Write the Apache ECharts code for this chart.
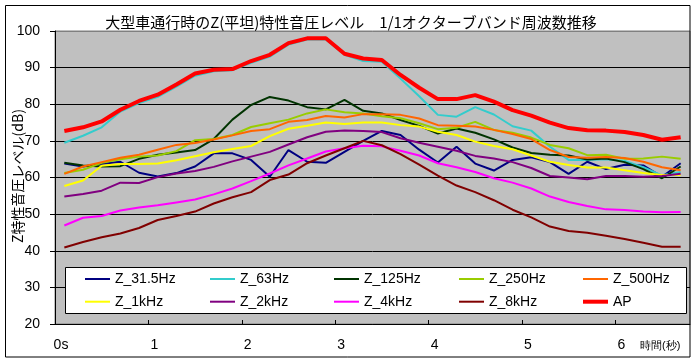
<!DOCTYPE html>
<html>
<head>
<meta charset="utf-8">
<script src="https://cdn.jsdelivr.net/npm/echarts@6/dist/echarts.min.js"></script>
<style>html,body{margin:0;padding:0;background:#fff;}#c{width:696px;height:363px;}</style>
</head>
<body>
<div id="c"></div>
<script>
const titleText = '大型車通行時のZ(平坦)特性音圧レベル　1/1オクターブバンド周波数推移';
const yName = 'Z特性音圧レベル(dB)';
const xName = '時間(秒)';
const times = [0.1,0.3,0.5,0.7,0.9,1.1,1.3,1.5,1.7,1.9,2.1,2.3,2.5,2.7,2.9,3.1,3.3,3.5,3.7,3.9,4.1,4.3,4.5,4.7,4.9,5.1,5.3,5.5,5.7,5.9,6.1,6.3,6.5,6.7];
const names = ['Z_31.5Hz','Z_63Hz','Z_125Hz','Z_250Hz','Z_500Hz','Z_1kHz','Z_2kHz','Z_4kHz','Z_8kHz','AP'];
const z31_5 = [63.8,63,63.7,64.3,61.3,60.3,61.2,63,66.6,66.6,64.8,60.2,67.5,64.3,64,67,70,72.7,71.6,67.6,64.1,68.4,63.8,61.9,64.8,65.5,64.2,61,64.3,62.3,63.5,63.3,60.2,63.9];
const z63 = [69.5,71.4,73.7,78,80.3,82,84.8,87.8,89,89.3,91.3,93,96.3,97.7,97.7,93.5,91.8,91.6,87,82.2,77.1,76.6,79.2,77.2,74,72.8,68.4,64.8,64.8,65,64.5,62.8,60.6,61.5];
const z125 = [64,63.3,63,63.1,65.1,66.2,66.8,67.5,70.5,75.8,79.8,82,81,79.2,78.6,81.2,78.2,77.5,75.7,74.1,72,73.4,72.2,70.4,68.2,66.7,66.2,66,64.9,65.2,64.2,62.3,59.8,63];
const z250 = [61.2,62.1,64,65,65.7,66,67.2,70.2,70.5,71.6,73.8,74.8,75.8,77.5,78.6,77.8,77.5,76.7,76.2,74.8,73.2,73.6,75.2,73,72.2,70.9,68.9,68,66.1,66.2,65.1,65.2,65.7,65.1];
const z500 = [61,63,64.2,65.4,66.2,67.6,68.9,69.4,70.4,71.5,72.7,73.2,75.2,75.7,76.8,76.4,77.3,77.3,77.1,76.1,74.3,74.1,73.9,73,71.9,70.5,67.5,65.6,65.4,65.6,65.3,64.3,62.8,62];
const z1k = [57.7,59.2,63.2,63.7,63.7,63.8,64.7,65.8,66.9,67.8,68.6,71.3,73.3,74.1,75,74.6,75,75,74.3,73.9,72.5,71.6,69.8,68.6,67.7,66,64.3,63.4,62.7,62.7,62,61.2,60.7,60.7];
const z2k = [54.8,55.5,56.4,58.6,58.5,60.1,61.1,61.8,62.9,64.4,65.7,67,69,71,72.5,72.8,72.7,72.4,70.7,69.5,68.4,67.3,65.9,65.2,64.2,62.6,60.4,60,59.5,60.4,60.4,60.2,60.4,61];
const z4k = [46.9,49,49.5,51,51.8,52.4,53.2,54,55.4,57,59,61.1,63.3,65.2,67.1,68,68.7,68.5,67.3,66,63.9,62.8,61.5,59.8,58.6,57,54.8,53.3,52.2,51.3,51.1,50.7,50.5,50.6];
const z8k = [40.9,42.4,43.7,44.7,46.2,48.4,49.5,50.7,52.9,54.6,56,59.3,60.8,63.9,66,68,70,68.8,66.4,63.5,60.5,57.8,56,53.8,51.2,49.1,46.6,45.4,44.9,44.1,43.2,42.2,41.1,41.1];
const ap = [72.7,73.7,75.3,78.5,80.9,82.6,85.4,88.4,89.4,89.6,91.8,93.5,96.7,98,98,93.8,92.5,92.1,88,84.5,81.4,81.4,82.5,80.7,78.4,76.9,75,73.5,72.9,72.8,72.4,71.6,70.3,71];

const values = [z31_5,z63,z125,z250,z500,z1k,z2k,z4k,z8k,ap];
const colors = ['#000080','#33CCCC','#003300','#99CC00','#FF6600','#FFFF00','#800080','#FF00FF','#800000','#FF0000'];
const widths = [2,2,2,2,2,2,2,2,2,4];

const font = '"Liberation Sans","Noto Sans CJK JP",sans-serif';
const series = names.map((n,i)=>({
  name:n, type:'line', symbol:'none', showSymbol:false, smooth:false,
  color:colors[i],
  lineStyle:{color:colors[i], width:widths[i]},
  itemStyle:{color:colors[i]},
  data: times.map((t,k)=>[t, values[i][k]]),
  z: 2, animation:false
}));

const colLeft = [85,210,334,459,583];
const legends = colLeft.map((x,c)=>({
  orient:'vertical', left:x, top:272, padding:0,
  itemWidth:25, itemHeight:14, itemGap:8.7, itemTextGap:4,
  data:[c, c+5].map(i=>({name:names[i], icon:'path://M0,0H25V' + widths[i] + 'H0Z'})),
  textStyle:{fontSize:14, color:'#000', fontFamily:font},
  selectedMode:false, z:5
}));

const chart = echarts.init(document.getElementById('c'), null, {renderer:'canvas'});
chart.setOption({
  animation:false,
  backgroundColor:'#ffffff',
  title:{text:titleText, left:346, top:10, textAlign:'center',
    textStyle:{fontSize:15, fontWeight:'normal', color:'#000', fontFamily:'"Noto Sans CJK JP",sans-serif'}},
  grid:{left:55, top:31, right:6, bottom:39, show:true, backgroundColor:'#C0C0C0', borderColor:'#808080', borderWidth:1,
    containLabel:false, outerBoundsMode:'none'},
  legend:legends,
  xAxis:{type:'value', min:0, max:6.8, interval:1,
    axisLine:{lineStyle:{color:'#000', width:1}},
    axisTick:{inside:true, length:4, lineStyle:{color:'#000'}},
    splitLine:{show:false},
    axisLabel:{color:'#000', fontSize:14, fontFamily:font, margin:14, showMaxLabel:false,
      padding:[0,0,0,12],
      formatter:v=> v===0 ? '0s' : (v>6.5 ? '' : String(v))}},
  yAxis:{type:'value', min:20, max:100, interval:10,
    axisLine:{show:true, lineStyle:{color:'#000', width:1}},
    axisTick:{show:true, length:5, lineStyle:{color:'#000'}},
    splitLine:{show:true, lineStyle:{color:['#000','#000','#000','#000','#000','#000','#000','#000','#808080'], width:1}},
    axisLabel:{color:'#000', fontSize:14, fontFamily:font, margin:15}},
  graphic:[
    {type:'rect', z:3, shape:{x:65.5, y:267.5, width:621, height:46}, style:{fill:'#fff', stroke:'#000', lineWidth:1}},
    {type:'rect', z:10, shape:{x:5.5, y:5.5, width:684.5, height:351.5}, style:{fill:null, stroke:'#000', lineWidth:1}},
    {type:'text', z:10, x:18, y:176, rotation:Math.PI/2,
      style:{text:yName, fill:'#000', font:'14px "Noto Sans CJK JP",sans-serif', align:'center', verticalAlign:'middle'}},
    {type:'text', z:10, left:640, top:340, style:{text:xName, fontSize:11, fill:'#000', font:'11px "Noto Sans CJK JP",sans-serif'}}
  ],
  series:series
});
</script>
</body>
</html>
